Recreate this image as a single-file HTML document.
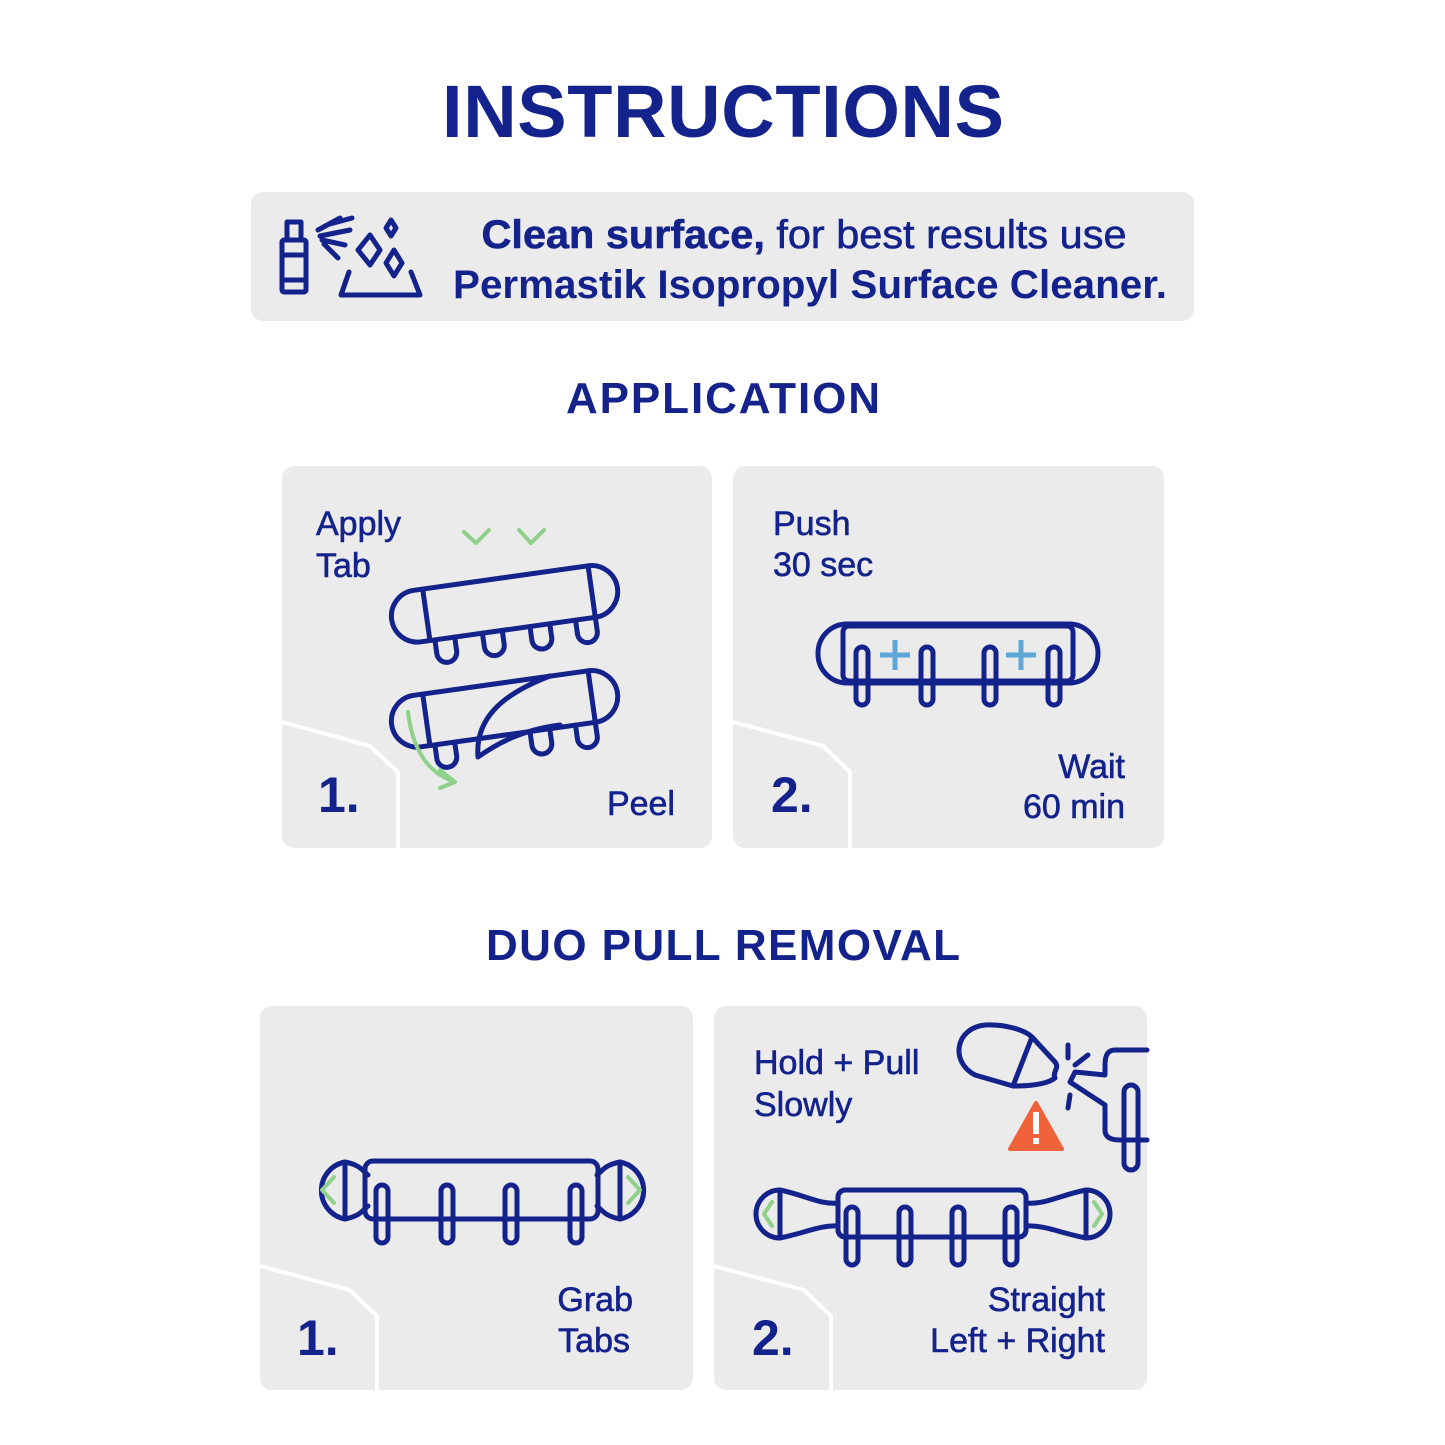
<!DOCTYPE html>
<html><head><meta charset="utf-8"><style>
html,body{margin:0;padding:0;background:#fff}
svg{display:block}
text{font-family:"Liberation Sans",sans-serif;fill:#14228c}
.m{stroke:#14228c;stroke-width:0.6}
.b{font-weight:bold}
.s{fill:none;stroke:#14228c;stroke-width:5;stroke-linejoin:round;stroke-linecap:round}
.w{fill:none;stroke:#fff;stroke-width:4}
.g{fill:none;stroke:#8fd08a;stroke-width:4;stroke-linecap:round;stroke-linejoin:round}
.p{fill:none;stroke:#5fa7d6;stroke-width:5}
</style></head><body>
<svg width="1445" height="1445" viewBox="0 0 1445 1445" xmlns="http://www.w3.org/2000/svg">
<defs>
<g id="hk"><rect x="-6" y="0" width="12" height="58" rx="6" class="s"/></g>
</defs>
<text x="723" y="137" text-anchor="middle" class="b" font-size="74" textLength="562" lengthAdjust="spacing">INSTRUCTIONS</text>

<rect x="251" y="192" width="943" height="129" rx="12" fill="#ebebeb"/>
<g>
<rect x="282" y="240" width="24" height="52" rx="2" class="s"/>
<line x1="283" y1="255" x2="305" y2="255" class="s"/>
<line x1="283" y1="280" x2="305" y2="280" class="s"/>
<rect x="287" y="222" width="14" height="18" class="s"/>
<path d="M341 295 L349 272 M341 295 L420 295 L411 272" class="s"/>
<path d="M370 235 L380 250 L370 265 L358 250 Z" class="s"/>
<path d="M394 250 L402 263 L394 276 L386 263 Z" class="s"/>
<path d="M391 220 L396 228 L391 236 L386 228 Z" class="s"/>
<path d="M318 230 L340 218 M320 236 L350 230 M322 240 L345 245 M324 244 L338 258 M330 224 L352 218" class="s" stroke-width="3.5"/>
</g>
<text x="804" y="248" text-anchor="middle" font-size="40" textLength="645" lengthAdjust="spacingAndGlyphs" class="m"><tspan class="b">Clean surface,</tspan> for best results use</text>
<text x="810" y="298" text-anchor="middle" class="b" font-size="40" textLength="714" lengthAdjust="spacingAndGlyphs">Permastik Isopropyl Surface Cleaner.</text>

<text x="723" y="413" text-anchor="middle" class="b" font-size="44" textLength="314" lengthAdjust="spacing">APPLICATION</text>

<!-- panel A1 -->
<rect x="282" y="466" width="430" height="382" rx="12" fill="#ebebeb"/>
<path d="M282 722 L370 746 L398 772 L398 848" class="w"/>
<text x="316" y="535" font-size="34" class="m">Apply</text>
<text x="316" y="577" font-size="34" class="m">Tab</text>
<path d="M464 532 L476 543 L489 530 M519 530 L531 543 L544 530" class="g"/>
<g transform="rotate(-8 503 600)">
<rect x="390" y="578" width="228" height="52" rx="26" class="s"/>
<line x1="425" y1="580" x2="425" y2="628" class="s"/><line x1="592" y1="578" x2="592" y2="628" class="s"/>
<path d="M430 630 v14 a10 10 0 0 0 20 0 v-14 M478 630 v14 a10 10 0 0 0 20 0 v-14 M526 630 v14 a10 10 0 0 0 20 0 v-14 M572 630 v14 a10 10 0 0 0 20 0 v-14" class="s"/>
</g>
<g transform="rotate(-8 503 705)">
<rect x="390" y="683" width="228" height="52" rx="26" class="s"/>
<line x1="425" y1="685" x2="425" y2="733" class="s"/><line x1="592" y1="683" x2="592" y2="733" class="s"/>
<path d="M430 735 v14 a10 10 0 0 0 20 0 v-14 M526 735 v14 a10 10 0 0 0 20 0 v-14 M572 735 v14 a10 10 0 0 0 20 0 v-14" class="s"/>
</g>
<path d="M478 757 C475 720 500 695 550 676 M478 757 C495 745 520 730 560 725" class="s"/>
<path d="M408 712 C412 745 425 770 450 780 M440 770 L455 782 L440 788" class="g"/>
<text x="318" y="812" class="b" font-size="50">1.</text>
<text x="675" y="815" text-anchor="end" font-size="34" class="m">Peel</text>

<!-- panel A2 -->
<rect x="733" y="466" width="431" height="382" rx="12" fill="#ebebeb"/>
<path d="M733 722 L823 746 L850 772 L850 848" class="w"/>
<text x="773" y="535" font-size="34" class="m">Push</text>
<text x="773" y="576" font-size="34" class="m">30 sec</text>
<rect x="818" y="624" width="280" height="59" rx="29" class="s"/>
<rect x="843" y="626" width="230" height="55" rx="6" class="s"/>
<use href="#hk" x="862" y="647"/><use href="#hk" x="927" y="647"/><use href="#hk" x="990" y="647"/><use href="#hk" x="1054" y="647"/>
<path d="M880 655 h30 M895 640 v30 M1006 655 h30 M1021 640 v30" class="p"/>
<text x="1125" y="778" text-anchor="end" font-size="34" class="m">Wait</text>
<text x="1125" y="818" text-anchor="end" font-size="34" class="m">60 min</text>
<text x="771" y="812" class="b" font-size="50">2.</text>

<text x="723" y="960" text-anchor="middle" class="b" font-size="44" textLength="474" lengthAdjust="spacing">DUO PULL REMOVAL</text>

<!-- panel R1 -->
<rect x="260" y="1006" width="433" height="384" rx="12" fill="#ebebeb"/>
<path d="M260 1266 L350 1290 L377 1316 L377 1390" class="w"/>
<path d="M345 1162 A29 29 0 0 0 345 1219 Z" class="s"/>
<path d="M345 1162 C360 1165 362 1170 368 1175 M345 1219 C360 1216 362 1211 368 1206" class="s"/>
<rect x="365" y="1161" width="233" height="58" rx="8" class="s"/>
<path d="M620 1162 A29 29 0 0 1 620 1219 Z" class="s"/>
<path d="M620 1162 C605 1165 603 1170 597 1175 M620 1219 C605 1216 603 1211 597 1206" class="s"/>
<path d="M334 1177 L322 1190 L334 1203 M628 1177 L640 1190 L628 1203" class="g"/>
<use href="#hk" x="382" y="1185"/><use href="#hk" x="447" y="1185"/><use href="#hk" x="511" y="1185"/><use href="#hk" x="576" y="1185"/>
<text x="633" y="1311" text-anchor="end" font-size="34" class="m">Grab</text>
<text x="630" y="1352" text-anchor="end" font-size="34" class="m">Tabs</text>
<text x="297" y="1355" class="b" font-size="50">1.</text>

<!-- panel R2 -->
<rect x="714" y="1006" width="433" height="384" rx="12" fill="#ebebeb"/>
<path d="M714 1266 L804 1290 L831 1316 L831 1390" class="w"/>
<text x="754" y="1074" font-size="34" class="m">Hold + Pull</text>
<text x="754" y="1116" font-size="34" class="m">Slowly</text>
<path d="M780 1190 A24 24 0 0 0 780 1238 Z" class="s"/>
<path d="M780 1190 C805 1195 820 1205 838 1203 M780 1238 C805 1233 820 1225 838 1226" class="s"/>
<rect x="838" y="1190" width="188" height="47" rx="7" class="s"/>
<path d="M1086 1190 A24 24 0 0 1 1086 1238 Z" class="s"/>
<path d="M1086 1190 C1060 1195 1045 1205 1026 1203 M1086 1238 C1060 1233 1045 1225 1026 1226" class="s"/>
<path d="M772 1202 L764 1214 L772 1226 M1094 1202 L1102 1214 L1094 1226" class="g"/>
<use href="#hk" x="852" y="1207"/><use href="#hk" x="905" y="1207"/><use href="#hk" x="958" y="1207"/><use href="#hk" x="1011" y="1207"/>
<text x="1105" y="1311" text-anchor="end" font-size="34" class="m">Straight</text>
<text x="1105" y="1352" text-anchor="end" font-size="34" class="m">Left + Right</text>
<text x="752" y="1355" class="b" font-size="50">2.</text>
<path d="M1013 1086 L975 1075 C950 1062 955 1028 985 1025 C1005 1024 1025 1030 1032 1037 L1055 1062 C1060 1068 1052 1072 1055 1078 C1050 1082 1040 1086 1013 1086 Z" class="s" stroke-width="4.5"/>
<path d="M1032 1037 L1013 1086" class="s" stroke-width="4.5"/>
<path d="M1068 1045 L1068 1058 M1075 1065 L1088 1055 M1070 1095 L1068 1108" class="s" stroke-width="4"/>
<path d="M1147 1050 L1115 1050 C1108 1050 1105 1055 1105 1065 L1105 1075 L1075 1072 L1070 1082 L1105 1105 L1105 1130 C1105 1137 1110 1140 1120 1140 L1147 1140" class="s" stroke-width="4.5"/>
<rect x="1124" y="1085" width="14" height="85" rx="7" class="s" stroke-width="4.5"/>
<path d="M1036 1103 L1062 1149 L1010 1149 Z" fill="#f0623a" stroke="#f0623a" stroke-width="4" stroke-linejoin="round"/>
<rect x="1033" y="1112" width="6" height="22" fill="#fff"/><rect x="1033" y="1138" width="6" height="6" fill="#fff"/>
</svg>
</body></html>
